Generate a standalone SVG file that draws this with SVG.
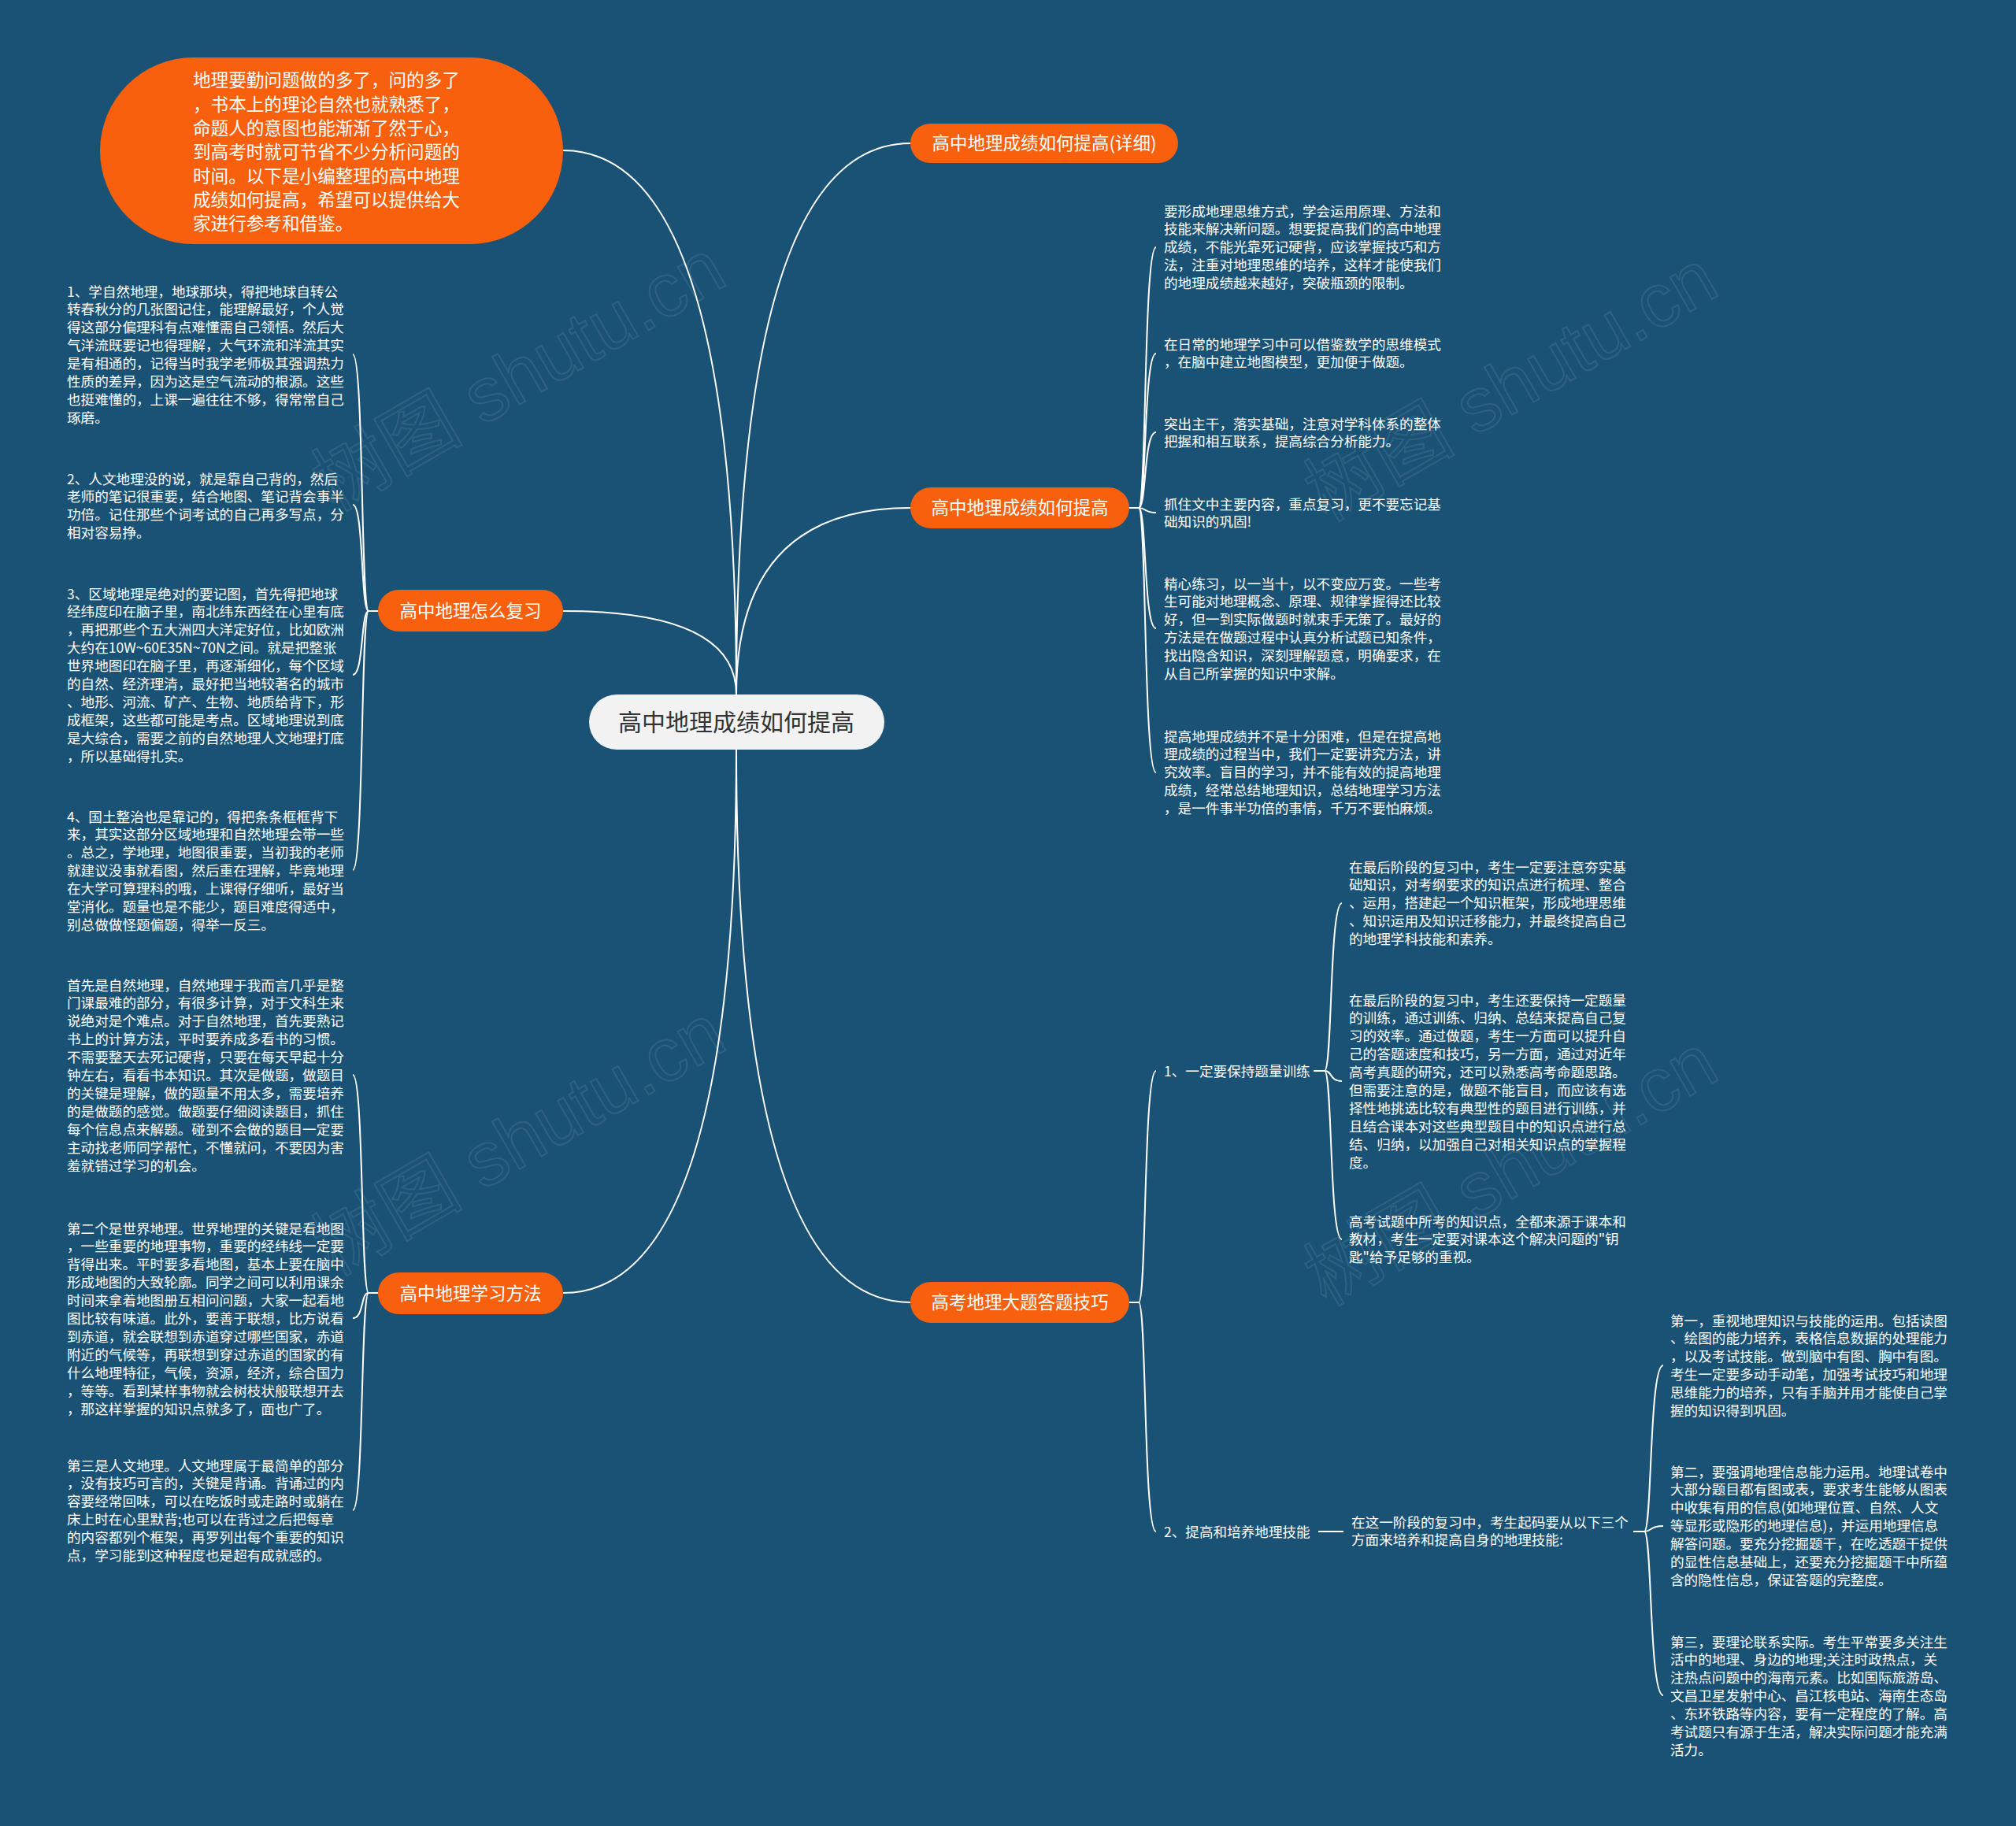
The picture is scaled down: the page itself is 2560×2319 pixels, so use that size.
<svg xmlns="http://www.w3.org/2000/svg" width="2560" height="2319" viewBox="0 0 2560 2319">
<style>
.conn{fill:none;stroke:#ffffff;stroke-width:2}
.t{font-family:"Noto Sans CJK SC","Noto Sans",sans-serif;fill:#ffffff;font-size:17.6px}
.on{fill:#f9600e}
.ot{font-family:"Noto Sans CJK SC","Noto Sans",sans-serif;fill:#ffffff;font-size:22.5px;text-anchor:middle}
.wm{font-family:"Liberation Sans","Noto Sans CJK SC",sans-serif;font-size:96px;fill:none;stroke:#ffffff;stroke-opacity:0.085;stroke-width:2}
</style>
<rect width="2560" height="2319" fill="#1a5276"/>
<g id="watermarks">
<text class="wm" x="675" y="505" text-anchor="middle" transform="rotate(-30 675 505)">树图 shutu.cn</text>
<text class="wm" x="1935" y="518" text-anchor="middle" transform="rotate(-30 1935 518)">树图 shutu.cn</text>
<text class="wm" x="675" y="1476" text-anchor="middle" transform="rotate(-30 675 1476)">树图 shutu.cn</text>
<text class="wm" x="1935" y="1514" text-anchor="middle" transform="rotate(-30 1935 1514)">树图 shutu.cn</text>
</g>
<g id="connectors">
<path class="conn" d="M 935 882 Q 935 191 715 191"/>
<path class="conn" d="M 935 882 Q 935 182 1156 182"/>
<path class="conn" d="M 935 882 Q 935 645 1156 645"/>
<path class="conn" d="M 935 882 Q 935 776 715 776"/>
<path class="conn" d="M 935 952 Q 935 1642 715 1642"/>
<path class="conn" d="M 935 952 Q 935 1654 1156 1654"/>
<path class="conn" d="M 1434 645 L 1446 645 C 1456 645 1452 314 1468 314"/>
<path class="conn" d="M 1434 645 L 1446 645 C 1456 645 1452 449 1468 449"/>
<path class="conn" d="M 1434 645 L 1446 645 C 1456 645 1452 549 1468 549"/>
<path class="conn" d="M 1434 645 L 1446 645 C 1456 645 1452 651 1468 651"/>
<path class="conn" d="M 1434 645 L 1446 645 C 1456 645 1452 798 1468 798"/>
<path class="conn" d="M 1434 645 L 1446 645 C 1456 645 1452 981 1468 981"/>
<path class="conn" d="M 1434 1654 L 1446 1654 C 1456 1654 1452 1360 1468 1360"/>
<path class="conn" d="M 1434 1654 L 1446 1654 C 1456 1654 1452 1945 1468 1945"/>
<path class="conn" d="M 1668 1360 L 1682 1360 C 1692 1360 1688 1147 1704 1147"/>
<path class="conn" d="M 1668 1360 L 1682 1360 C 1692 1360 1688 1373 1704 1373"/>
<path class="conn" d="M 1668 1360 L 1682 1360 C 1692 1360 1688 1574 1704 1574"/>
<path class="conn" d="M 1674 1945 L 1706 1945"/>
<path class="conn" d="M 2074 1945 L 2088 1945 C 2098 1945 2094 1734 2112 1734"/>
<path class="conn" d="M 2074 1945 L 2088 1945 C 2098 1945 2094 1938 2112 1938"/>
<path class="conn" d="M 2074 1945 L 2088 1945 C 2098 1945 2094 2153 2112 2153"/>
<path class="conn" d="M 480 776 L 468 776 C 458 776 462 450 448 450"/>
<path class="conn" d="M 480 776 L 468 776 C 458 776 462 641 448 641"/>
<path class="conn" d="M 480 776 L 468 776 C 458 776 462 857 448 857"/>
<path class="conn" d="M 480 776 L 468 776 C 458 776 462 1105 448 1105"/>
<path class="conn" d="M 480 1642 L 468 1642 C 458 1642 462 1365 448 1365"/>
<path class="conn" d="M 480 1642 L 468 1642 C 458 1642 462 1674 448 1674"/>
<path class="conn" d="M 480 1642 L 468 1642 C 458 1642 462 1918 448 1918"/>
</g>
<g id="center">
<rect x="748" y="882" width="375" height="70" rx="35" fill="#f2f2f2"/>
<text x="935" y="928" text-anchor="middle" style="font-family:'Noto Sans CJK SC','Noto Sans',sans-serif;font-size:30px;fill:#333333">高中地理成绩如何提高</text>
</g>
<g id="intro">
<rect x="127" y="73" width="588" height="237" rx="118.5" class="on"/>
<text class="t" style="font-size:22.6px" x="245" y="110.3"><tspan x="245">地理要勤问题做的多了，问的多了</tspan><tspan x="245" dy="30.3">，书本上的理论自然也就熟悉了，</tspan><tspan x="245" dy="30.3">命题人的意图也能渐渐了然于心，</tspan><tspan x="245" dy="30.3">到高考时就可节省不少分析问题的</tspan><tspan x="245" dy="30.3">时间。以下是小编整理的高中地理</tspan><tspan x="245" dy="30.3">成绩如何提高，希望可以提供给大</tspan><tspan x="245" dy="30.3">家进行参考和借鉴。</tspan></text>
</g>
<g id="n-detail">
<rect x="1156" y="157" width="340" height="50" rx="25" class="on"/>
<text class="ot" x="1326" y="190.3">高中地理成绩如何提高(详细)</text>
</g>
<g id="n-improve">
<rect x="1156" y="619" width="278" height="52" rx="26" class="on"/>
<text class="ot" x="1295" y="653.3">高中地理成绩如何提高</text>
</g>
<g id="n-skills">
<rect x="1156" y="1628" width="278" height="52" rx="26" class="on"/>
<text class="ot" x="1295" y="1662.3">高考地理大题答题技巧</text>
</g>
<g id="n-review">
<rect x="480" y="749" width="235" height="53" rx="26.5" class="on"/>
<text class="ot" x="597.5" y="784.3">高中地理怎么复习</text>
</g>
<g id="n-method">
<rect x="480" y="1616" width="235" height="53" rx="26.5" class="on"/>
<text class="ot" x="597.5" y="1650.8">高中地理学习方法</text>
</g>
<g id="l1"><text class="t" x="85" y="376.5"><tspan x="85">1、学自然地理，地球那块，得把地球自转公</tspan><tspan x="85" dy="22.9">转春秋分的几张图记住，能理解最好，个人觉</tspan><tspan x="85" dy="22.9">得这部分偏理科有点难懂需自己领悟。然后大</tspan><tspan x="85" dy="22.9">气洋流既要记也得理解，大气环流和洋流其实</tspan><tspan x="85" dy="22.9">是有相通的，记得当时我学老师极其强调热力</tspan><tspan x="85" dy="22.9">性质的差异，因为这是空气流动的根源。这些</tspan><tspan x="85" dy="22.9">也挺难懂的，上课一遍往往不够，得常常自己</tspan><tspan x="85" dy="22.9">琢磨。</tspan></text></g>
<g id="l2"><text class="t" x="85" y="614.5"><tspan x="85">2、人文地理没的说，就是靠自己背的，然后</tspan><tspan x="85" dy="22.9">老师的笔记很重要，结合地图、笔记背会事半</tspan><tspan x="85" dy="22.9">功倍。记住那些个词考试的自己再多写点，分</tspan><tspan x="85" dy="22.9">相对容易挣。</tspan></text></g>
<g id="l3"><text class="t" x="85" y="760.5"><tspan x="85">3、区域地理是绝对的要记图，首先得把地球</tspan><tspan x="85" dy="22.9">经纬度印在脑子里，南北纬东西经在心里有底</tspan><tspan x="85" dy="22.9">，再把那些个五大洲四大洋定好位，比如欧洲</tspan><tspan x="85" dy="22.9">大约在10W~60E35N~70N之间。就是把整张</tspan><tspan x="85" dy="22.9">世界地图印在脑子里，再逐渐细化，每个区域</tspan><tspan x="85" dy="22.9">的自然、经济理清，最好把当地较著名的城市</tspan><tspan x="85" dy="22.9">、地形、河流、矿产、生物、地质给背下，形</tspan><tspan x="85" dy="22.9">成框架，这些都可能是考点。区域地理说到底</tspan><tspan x="85" dy="22.9">是大综合，需要之前的自然地理人文地理打底</tspan><tspan x="85" dy="22.9">，所以基础得扎实。</tspan></text></g>
<g id="l4"><text class="t" x="85" y="1043.5"><tspan x="85">4、国土整治也是靠记的，得把条条框框背下</tspan><tspan x="85" dy="22.9">来，其实这部分区域地理和自然地理会带一些</tspan><tspan x="85" dy="22.9">。总之，学地理，地图很重要，当初我的老师</tspan><tspan x="85" dy="22.9">就建议没事就看图，然后重在理解，毕竟地理</tspan><tspan x="85" dy="22.9">在大学可算理科的哦，上课得仔细听，最好当</tspan><tspan x="85" dy="22.9">堂消化。题量也是不能少，题目难度得适中，</tspan><tspan x="85" dy="22.9">别总做做怪题偏题，得举一反三。</tspan></text></g>
<g id="l5"><text class="t" x="85" y="1257.5"><tspan x="85">首先是自然地理，自然地理于我而言几乎是整</tspan><tspan x="85" dy="22.9">门课最难的部分，有很多计算，对于文科生来</tspan><tspan x="85" dy="22.9">说绝对是个难点。对于自然地理，首先要熟记</tspan><tspan x="85" dy="22.9">书上的计算方法，平时要养成多看书的习惯。</tspan><tspan x="85" dy="22.9">不需要整天去死记硬背，只要在每天早起十分</tspan><tspan x="85" dy="22.9">钟左右，看看书本知识。其次是做题，做题目</tspan><tspan x="85" dy="22.9">的关键是理解，做的题量不用太多，需要培养</tspan><tspan x="85" dy="22.9">的是做题的感觉。做题要仔细阅读题目，抓住</tspan><tspan x="85" dy="22.9">每个信息点来解题。碰到不会做的题目一定要</tspan><tspan x="85" dy="22.9">主动找老师同学帮忙，不懂就问，不要因为害</tspan><tspan x="85" dy="22.9">羞就错过学习的机会。</tspan></text></g>
<g id="l6"><text class="t" x="85" y="1566.5"><tspan x="85">第二个是世界地理。世界地理的关键是看地图</tspan><tspan x="85" dy="22.9">，一些重要的地理事物，重要的经纬线一定要</tspan><tspan x="85" dy="22.9">背得出来。平时要多看地图，基本上要在脑中</tspan><tspan x="85" dy="22.9">形成地图的大致轮廓。同学之间可以利用课余</tspan><tspan x="85" dy="22.9">时间来拿着地图册互相问问题，大家一起看地</tspan><tspan x="85" dy="22.9">图比较有味道。此外，要善于联想，比方说看</tspan><tspan x="85" dy="22.9">到赤道，就会联想到赤道穿过哪些国家，赤道</tspan><tspan x="85" dy="22.9">附近的气候等，再联想到穿过赤道的国家的有</tspan><tspan x="85" dy="22.9">什么地理特征，气候，资源，经济，综合国力</tspan><tspan x="85" dy="22.9">，等等。看到某样事物就会树枝状般联想开去</tspan><tspan x="85" dy="22.9">，那这样掌握的知识点就多了，面也广了。</tspan></text></g>
<g id="l7"><text class="t" x="85" y="1867.5"><tspan x="85">第三是人文地理。人文地理属于最简单的部分</tspan><tspan x="85" dy="22.9">，没有技巧可言的，关键是背诵。背诵过的内</tspan><tspan x="85" dy="22.9">容要经常回味，可以在吃饭时或走路时或躺在</tspan><tspan x="85" dy="22.9">床上时在心里默背;也可以在背过之后把每章</tspan><tspan x="85" dy="22.9">的内容都列个框架，再罗列出每个重要的知识</tspan><tspan x="85" dy="22.9">点，学习能到这种程度也是超有成就感的。</tspan></text></g>
<g id="c1"><text class="t" x="1478" y="274.5"><tspan x="1478">要形成地理思维方式，学会运用原理、方法和</tspan><tspan x="1478" dy="22.9">技能来解决新问题。想要提高我们的高中地理</tspan><tspan x="1478" dy="22.9">成绩，不能光靠死记硬背，应该掌握技巧和方</tspan><tspan x="1478" dy="22.9">法，注重对地理思维的培养，这样才能使我们</tspan><tspan x="1478" dy="22.9">的地理成绩越来越好，突破瓶颈的限制。</tspan></text></g>
<g id="c2"><text class="t" x="1478" y="443.5"><tspan x="1478">在日常的地理学习中可以借鉴数学的思维模式</tspan><tspan x="1478" dy="22.9">，在脑中建立地图模型，更加便于做题。</tspan></text></g>
<g id="c3"><text class="t" x="1478" y="544.5"><tspan x="1478">突出主干，落实基础，注意对学科体系的整体</tspan><tspan x="1478" dy="22.9">把握和相互联系，提高综合分析能力。</tspan></text></g>
<g id="c4"><text class="t" x="1478" y="646.5"><tspan x="1478">抓住文中主要内容，重点复习，更不要忘记基</tspan><tspan x="1478" dy="22.9">础知识的巩固!</tspan></text></g>
<g id="c5"><text class="t" x="1478" y="747.5"><tspan x="1478">精心练习，以一当十，以不变应万变。一些考</tspan><tspan x="1478" dy="22.9">生可能对地理概念、原理、规律掌握得还比较</tspan><tspan x="1478" dy="22.9">好，但一到实际做题时就束手无策了。最好的</tspan><tspan x="1478" dy="22.9">方法是在做题过程中认真分析试题已知条件，</tspan><tspan x="1478" dy="22.9">找出隐含知识，深刻理解题意，明确要求，在</tspan><tspan x="1478" dy="22.9">从自己所掌握的知识中求解。</tspan></text></g>
<g id="c6"><text class="t" x="1478" y="941.5"><tspan x="1478">提高地理成绩并不是十分困难，但是在提高地</tspan><tspan x="1478" dy="22.9">理成绩的过程当中，我们一定要讲究方法，讲</tspan><tspan x="1478" dy="22.9">究效率。盲目的学习，并不能有效的提高地理</tspan><tspan x="1478" dy="22.9">成绩，经常总结地理知识，总结地理学习方法</tspan><tspan x="1478" dy="22.9">，是一件事半功倍的事情，千万不要怕麻烦。</tspan></text></g>
<g id="s1"><text class="t" x="1478" y="1366.5">1、一定要保持题量训练</text></g>
<g id="s2"><text class="t" x="1478" y="1951.5">2、提高和培养地理技能</text></g>
<g id="s1a"><text class="t" x="1713" y="1107.5"><tspan x="1713">在最后阶段的复习中，考生一定要注意夯实基</tspan><tspan x="1713" dy="22.9">础知识，对考纲要求的知识点进行梳理、整合</tspan><tspan x="1713" dy="22.9">、运用，搭建起一个知识框架，形成地理思维</tspan><tspan x="1713" dy="22.9">、知识运用及知识迁移能力，并最终提高自己</tspan><tspan x="1713" dy="22.9">的地理学科技能和素养。</tspan></text></g>
<g id="s1b"><text class="t" x="1713" y="1276.5"><tspan x="1713">在最后阶段的复习中，考生还要保持一定题量</tspan><tspan x="1713" dy="22.9">的训练，通过训练、归纳、总结来提高自己复</tspan><tspan x="1713" dy="22.9">习的效率。通过做题，考生一方面可以提升自</tspan><tspan x="1713" dy="22.9">己的答题速度和技巧，另一方面，通过对近年</tspan><tspan x="1713" dy="22.9">高考真题的研究，还可以熟悉高考命题思路。</tspan><tspan x="1713" dy="22.9">但需要注意的是，做题不能盲目，而应该有选</tspan><tspan x="1713" dy="22.9">择性地挑选比较有典型性的题目进行训练，并</tspan><tspan x="1713" dy="22.9">且结合课本对这些典型题目中的知识点进行总</tspan><tspan x="1713" dy="22.9">结、归纳，以加强自己对相关知识点的掌握程</tspan><tspan x="1713" dy="22.9">度。</tspan></text></g>
<g id="s1c"><text class="t" x="1713" y="1557.5"><tspan x="1713">高考试题中所考的知识点，全都来源于课本和</tspan><tspan x="1713" dy="22.9">教材，考生一定要对课本这个解决问题的"钥</tspan><tspan x="1713" dy="22.9">匙"给予足够的重视。</tspan></text></g>
<g id="s2m"><text class="t" x="1716" y="1939.5"><tspan x="1716">在这一阶段的复习中，考生起码要从以下三个</tspan><tspan x="1716" dy="22.9">方面来培养和提高自身的地理技能:</tspan></text></g>
<g id="s2a"><text class="t" x="2121" y="1683.5"><tspan x="2121">第一，重视地理知识与技能的运用。包括读图</tspan><tspan x="2121" dy="22.9">、绘图的能力培养，表格信息数据的处理能力</tspan><tspan x="2121" dy="22.9">，以及考试技能。做到脑中有图、胸中有图。</tspan><tspan x="2121" dy="22.9">考生一定要多动手动笔，加强考试技巧和地理</tspan><tspan x="2121" dy="22.9">思维能力的培养，只有手脑并用才能使自己掌</tspan><tspan x="2121" dy="22.9">握的知识得到巩固。</tspan></text></g>
<g id="s2b"><text class="t" x="2121" y="1875.5"><tspan x="2121">第二，要强调地理信息能力运用。地理试卷中</tspan><tspan x="2121" dy="22.9">大部分题目都有图或表，要求考生能够从图表</tspan><tspan x="2121" dy="22.9">中收集有用的信息(如地理位置、自然、人文</tspan><tspan x="2121" dy="22.9">等显形或隐形的地理信息)，并运用地理信息</tspan><tspan x="2121" dy="22.9">解答问题。要充分挖掘题干，在吃透题干提供</tspan><tspan x="2121" dy="22.9">的显性信息基础上，还要充分挖掘题干中所蕴</tspan><tspan x="2121" dy="22.9">含的隐性信息，保证答题的完整度。</tspan></text></g>
<g id="s2c"><text class="t" x="2121" y="2091.5"><tspan x="2121">第三，要理论联系实际。考生平常要多关注生</tspan><tspan x="2121" dy="22.9">活中的地理、身边的地理;关注时政热点，关</tspan><tspan x="2121" dy="22.9">注热点问题中的海南元素。比如国际旅游岛、</tspan><tspan x="2121" dy="22.9">文昌卫星发射中心、昌江核电站、海南生态岛</tspan><tspan x="2121" dy="22.9">、东环铁路等内容，要有一定程度的了解。高</tspan><tspan x="2121" dy="22.9">考试题只有源于生活，解决实际问题才能充满</tspan><tspan x="2121" dy="22.9">活力。</tspan></text></g>
</svg>
